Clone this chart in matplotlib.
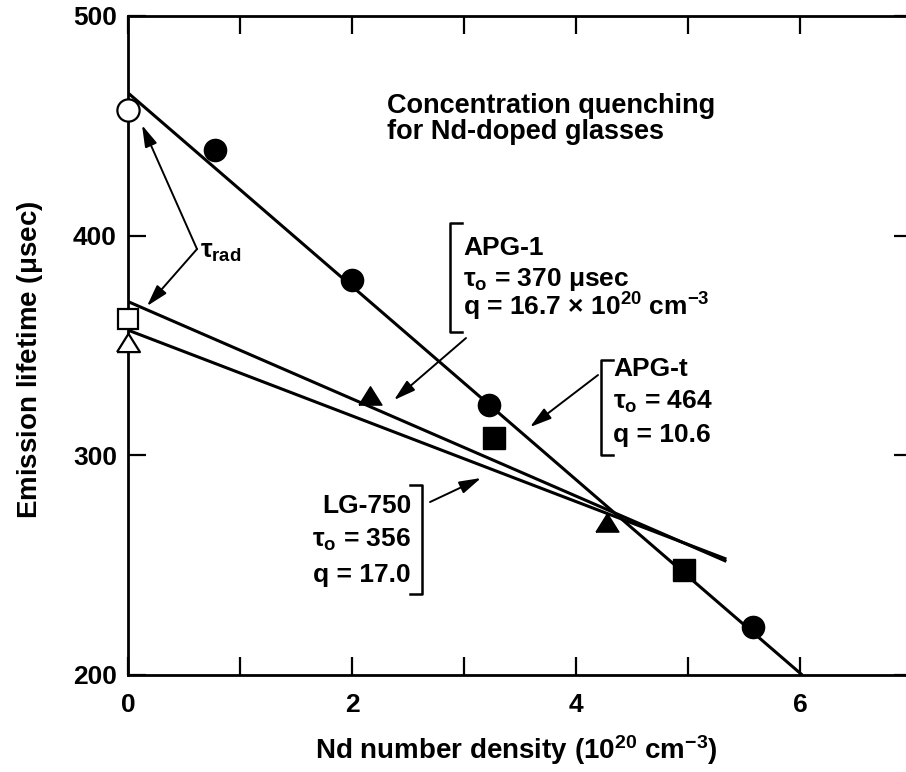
import matplotlib
matplotlib.use("Agg")
import matplotlib.pyplot as plt
from matplotlib.lines import Line2D

plt.rcParams['font.family'] = ['Liberation Sans', 'DejaVu Sans']
plt.rcParams['font.weight'] = 'bold'
plt.rcParams['mathtext.fontset'] = 'custom'
plt.rcParams['mathtext.rm'] = 'Liberation Sans:bold'
plt.rcParams['mathtext.it'] = 'Liberation Sans:bold'
plt.rcParams['mathtext.bf'] = 'Liberation Sans:bold'

# ---- data ----
# APG-t (filled circles) and its fitted line
apgt_x = [0.78, 2.0, 3.22, 5.58]
apgt_y = [439, 380, 323, 222]
apgt_line_x = [0.0, 6.02]
apgt_line_y = [465, 200]
# filled triangles
tri_x = [2.16, 4.28]
tri_y = [327, 269]
# filled squares
sq_x = [3.27, 4.96]
sq_y = [308, 248]
# APG-1 and LG-750 fitted lines
apg1_line_x = [0.0, 5.33]
apg1_line_y = [370, 252]
lg750_line_x = [0.0, 5.33]
lg750_line_y = [357, 253]
# tau_rad open markers at x = 0
rad_circle = (0.0, 457)
rad_square = (0.0, 362)
rad_triangle = (0.0, 351)

xticks = [0, 1, 2, 3, 4, 5, 6, 7]
xtick_labels = ['0', '', '2', '', '4', '', '6', '']
yticks = [200, 300, 400, 500]
ytick_labels = ['200', '300', '400', '500']

fig = plt.figure(figsize=(9.06, 7.72), dpi=100)
ax = fig.add_axes([128/906, 97/772, 784/906, 659/772])
ax.set_xlim(0, 7)
ax.set_ylim(200, 500)

lw = 2.2
ms = 16
tri_marker = [(-1, -0.75), (1, -0.75), (0, 0.85), (-1, -0.75)]

ax.plot(apgt_line_x, apgt_line_y, color='black', lw=lw, solid_capstyle='butt', zorder=2)
ax.plot(apg1_line_x, apg1_line_y, color='black', lw=lw, zorder=2)
ax.plot(lg750_line_x, lg750_line_y, color='black', lw=lw, zorder=2)

ax.plot(apgt_x, apgt_y, 'o', color='black', ms=ms, zorder=3, clip_on=False)
ax.plot(tri_x, tri_y, linestyle='none', marker=tri_marker, color='black', ms=ms + 0.5, zorder=3)
ax.plot(sq_x, sq_y, 's', color='black', ms=ms - 0.5, zorder=3)

ax.plot([rad_circle[0]], [rad_circle[1]], 'o', mfc='white', mec='black', mew=1.6, ms=ms, zorder=4, clip_on=False)
ax.plot([rad_square[0]], [rad_square[1]], 's', mfc='white', mec='black', mew=1.6, ms=ms - 1, zorder=4, clip_on=False)
ax.plot([rad_triangle[0]], [rad_triangle[1]], linestyle='none', marker=tri_marker, mfc='white', mec='black',
        mew=1.6, ms=ms + 0.5, zorder=4, clip_on=False)

# ticks and spines
ax.set_xticks(xticks)
ax.set_xticklabels(xtick_labels)
ax.set_yticks(yticks)
ax.set_yticklabels(ytick_labels)
ax.tick_params(direction='in', length=13, width=1.6, top=True, right=True,
               labelsize=19, colors='black')
ax.tick_params(axis='x', pad=13)
ax.tick_params(axis='y', pad=8)
for s in ax.spines.values():
    s.set_linewidth(2.0)

ax.set_xlabel(r'Nd number density (10$^{20}$ cm$^{-3}$)', fontsize=20, fontweight='bold')
ax.set_ylabel(r'Emission lifetime ($\mu$sec)', fontsize=20, fontweight='bold')
ax.xaxis.set_label_coords(0.495, -0.114)
ax.xaxis.label.set_va('center')
ax.yaxis.set_label_coords(-0.125, 0.478)
ax.yaxis.label.set_va('center')

def px2d(px, py):
    return ((px - 128) / 112.0, 200 + (675 - py) / 2.197)

fs = 19
# title
ax.text(*px2d(387, 113), 'Concentration quenching', fontsize=19.5, ha='left', va='baseline')
ax.text(*px2d(387, 139), 'for Nd-doped glasses', fontsize=19.5, ha='left', va='baseline')

# APG-1 block
ax.text(*px2d(463, 255), 'APG-1', fontsize=fs, ha='left', va='baseline')
ax.text(*px2d(463, 286), r'$\tau_{\rm o}$ = 370 $\mu$sec', fontsize=fs, ha='left', va='baseline')
ax.text(*px2d(463, 316), r'q = 16.7 $\times$ 10$^{20}$ cm$^{-3}$', fontsize=fs, ha='left', va='baseline')

# APG-t block
ax.text(*px2d(613, 376), 'APG-t', fontsize=fs, ha='left', va='baseline')
ax.text(*px2d(613, 409), r'$\tau_{\rm o}$ = 464', fontsize=fs, ha='left', va='baseline')
ax.text(*px2d(613, 442), 'q = 10.6', fontsize=fs, ha='left', va='baseline')

# LG-750 block
ax.text(*px2d(411, 513), 'LG-750', fontsize=fs, ha='right', va='baseline')
ax.text(*px2d(411, 547), r'$\tau_{\rm o}$ = 356', fontsize=fs, ha='right', va='baseline')
ax.text(*px2d(411, 582), 'q = 17.0', fontsize=fs, ha='right', va='baseline')

# tau_rad label
ax.text(*px2d(200, 258), r'$\tau_{\rm rad}$', fontsize=fs, ha='left', va='baseline')

# brackets
def bracket(x, y0, y1, serif, side):
    (bx, by0) = px2d(x, y0)
    (_, by1) = px2d(x, y1)
    dx = serif / 112.0 * side
    ax.add_line(Line2D([bx + dx, bx, bx, bx + dx], [by0, by0, by1, by1], color='black', lw=1.8))

bracket(450, 223, 332, 12, 1)
bracket(601, 360, 455, 12, 1)
bracket(422, 485, 594, -12, 1)

# arrows
ap = dict(arrowstyle='-|>,head_length=1.1,head_width=0.32', color='black', lw=1.4,
          mutation_scale=12, shrinkA=0, shrinkB=0)
ax.annotate('', xy=px2d(142, 125), xytext=px2d(197, 249), arrowprops=ap)
ax.annotate('', xy=px2d(147, 306), xytext=px2d(197, 249), arrowprops=ap)
ax.annotate('', xy=px2d(394, 400), xytext=px2d(466, 338), arrowprops=ap)
ax.annotate('', xy=px2d(530, 427), xytext=px2d(598, 375), arrowprops=ap)
ax.annotate('', xy=px2d(481, 478), xytext=px2d(430, 502), arrowprops=ap)

fig.savefig('out.png', dpi=100)
